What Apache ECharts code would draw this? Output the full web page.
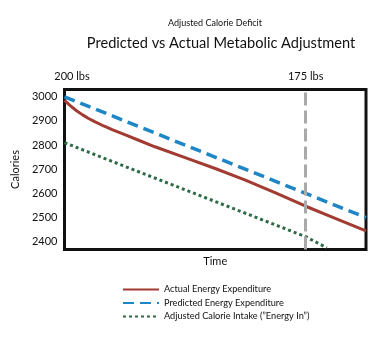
<!DOCTYPE html>
<html><head><meta charset="utf-8">
<script src="https://cdn.jsdelivr.net/npm/echarts@6/dist/echarts.min.js"></script>
<style>html,body{margin:0;padding:0;background:#fff}#c{width:383px;height:337px}</style>
</head><body><div id="c"></div>
<script>
const FONT = 'Lato';
const actualX = [0, 2, 4, 6, 8, 10, 13, 16, 20, 25, 30, 40, 50, 60, 70, 80, 90, 100];
const actualY = [2985, 2962, 2942, 2925, 2910, 2897, 2879, 2863, 2843, 2818, 2793, 2748, 2703, 2655, 2602, 2547, 2496, 2445];
const predictedX = [0, 100];
const predictedY = [3000, 2500];
const intakeX = [0, 20, 40, 60, 80, 87];
const intakeY = [2810, 2712, 2615, 2518, 2421, 2375];
const yTicks = [2400, 2500, 2600, 2700, 2800, 2900, 3000];
const markerX = 80;
const seriesNames = ['Actual Energy Expenditure', 'Predicted Energy Expenditure', 'Adjusted Calorie Intake (\u201dEnergy In\u201d)'];

const zip = (xs, ys) => xs.map((x, i) => [x, ys[i]]);
const chart = echarts.init(document.getElementById('c'), null, {renderer: 'canvas'});
chart.setOption({
  animation: false,
  backgroundColor: '#fff',
  textStyle: {fontFamily: FONT},
  title: [
    {text: 'Adjusted Calorie Deficit', left: 210, top: 14, textAlign: 'center',
     textStyle: {fontSize: 9, fontWeight: 'normal', color: '#111', fontFamily: FONT}},
    {text: 'Predicted vs Actual Metabolic Adjustment', left: 216, top: 31, textAlign: 'center',
     textStyle: {fontSize: 14.6, fontWeight: 'normal', color: '#111', fontFamily: FONT}},
    {text: '200 lbs', left: 67, top: 66, textAlign: 'center',
     textStyle: {fontSize: 11, fontWeight: 'normal', color: '#111', fontFamily: FONT}}
  ],
  grid: {left: 64.5, right: 17, top: 89.5, height: 160, show: true, borderColor: '#111', borderWidth: 3, backgroundColor: '#fff'},
  xAxis: {type: 'value', min: 0, max: 100, name: 'Time', nameLocation: 'middle', nameGap: 6,
    nameTextStyle: {fontSize: 11, color: '#111', fontFamily: FONT},
    axisLine: {show: false}, axisTick: {show: false}, axisLabel: {show: false}, splitLine: {show: false}},
  yAxis: {type: 'value', min: 2368, max: 3030, name: 'Calories', nameLocation: 'middle', nameGap: 32,
    nameTextStyle: {fontSize: 11, color: '#111', fontFamily: FONT},
    axisLine: {show: false}, axisTick: {show: false}, splitLine: {show: false},
    axisLabel: {customValues: yTicks, formatter: v => String(v), fontSize: 11, color: '#111', margin: 7, fontFamily: FONT}},
  legend: {orient: 'vertical', left: 117, top: 280, itemWidth: 36, itemHeight: 10, itemGap: 4.5,
    itemStyle: {opacity: 0},
    textStyle: {fontSize: 9.2, color: '#111', fontFamily: FONT}, data: seriesNames},
  series: [
    {name: seriesNames[0], type: 'line', symbol: 'none', smooth: false, data: zip(actualX, actualY),
     lineStyle: {color: '#a23b31', width: 3, join: 'round'}, itemStyle: {color: '#a23b31'}, z: 3},
    {name: seriesNames[1], type: 'line', symbol: 'none', data: zip(predictedX, predictedY),
     lineStyle: {color: '#1e86c6', width: 3.5, type: [11, 6]}, itemStyle: {color: '#1e86c6'}, z: 4,
     markLine: {silent: true, symbol: 'none', data: [{xAxis: markerX}],
       lineStyle: {color: '#aaaaaa', width: 3, type: [13, 5]},
       label: {show: true, position: 'end', formatter: '175 lbs', distance: 8, fontSize: 11, color: '#111', fontFamily: FONT}}},
    {name: seriesNames[2], type: 'line', symbol: 'none', data: zip(intakeX, intakeY),
     lineStyle: {color: '#2e6a45', width: 3, type: [3, 3]}, itemStyle: {color: '#2e6a45'}, z: 2}
  ]
});
</script></body></html>
